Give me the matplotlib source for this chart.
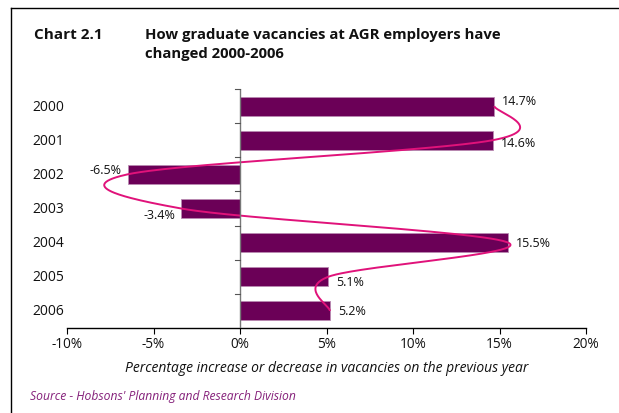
import numpy as np
import matplotlib
matplotlib.use("Agg")
import matplotlib.pyplot as plt
from matplotlib.lines import Line2D

# Year-on-year change in graduate vacancies (%)
years = ["2000", "2001", "2002", "2003", "2004", "2005", "2006"]
change_pct = [14.7, 14.6, -6.5, -3.4, 15.5, 5.1, 5.2]
x_ticks = [-10, -5, 0, 5, 10, 15, 20]

# Vertical nudges (pixels) for value labels so they clear the trend curve
label_dy = [6, -2, 5, -6, 0, -5, 0]

BAR = "#6b0057"
CURVE = "#e0127a"
SOURCE = "#85207a"
INK = "#111111"

plt.rcParams["font.family"] = ["Open Sans", "DejaVu Sans"]

fig = plt.figure(figsize=(6.19, 4.14), dpi=100)
W, H = 619, 414

def fx(px):
    return px / W

def fy(py):
    return 1 - py / H

ax = fig.add_axes([fx(67), fy(329), fx(586) - fx(67), fy(90) - fy(329)])

pos = np.arange(len(years))
ax.barh(pos, change_pct, height=0.56, color=BAR, edgecolor="#b98ab2",
        linewidth=0.6, zorder=2)

# Smoothed line through bar ends (Catmull-Rom / Bezier style)
P = np.column_stack([np.array(change_pct, dtype=float), pos.astype(float)])
n = len(P)
T = np.zeros_like(P)
for i in range(n):
    if i == 0:
        T[i] = (P[1] - P[0]) / 2
    elif i == n - 1:
        T[i] = (P[-1] - P[-2]) / 2
    else:
        T[i] = (P[i + 1] - P[i - 1]) / 2
curve = []
t = np.linspace(0, 1, 60)[:, None]
for i in range(n - 1):
    b0 = P[i]
    b1 = P[i] + T[i] / 3
    b2 = P[i + 1] - T[i + 1] / 3
    b3 = P[i + 1]
    seg = ((1 - t) ** 3) * b0 + 3 * ((1 - t) ** 2) * t * b1 \
        + 3 * (1 - t) * t ** 2 * b2 + t ** 3 * b3
    curve.append(seg)
curve = np.vstack(curve)
ax.plot(curve[:, 0], curve[:, 1], color=CURVE, lw=1.4, zorder=3,
        solid_capstyle="butt")

ax.set_xlim(-10, 20)
ax.set_ylim(len(years) - 0.5, -0.5)

# Value labels
for i, v in enumerate(change_pct):
    if v >= 0:
        ax.annotate(f"{v}%", (v, i), xytext=(8, label_dy[i]),
                    textcoords="offset pixels", ha="left", va="center",
                    fontsize=9, color=INK)
    else:
        ax.annotate(f"{v}%", (v, i), xytext=(-6, label_dy[i]),
                    textcoords="offset pixels", ha="right", va="center",
                    fontsize=9, color=INK)

# Spines
for s in ["top", "right", "left"]:
    ax.spines[s].set_visible(False)
ax.spines["bottom"].set_color("black")
ax.spines["bottom"].set_linewidth(1.0)
ax.axvline(0, color="#777777", lw=1.0, zorder=4)

ax.set_xticks(x_ticks)
ax.set_xticklabels([f"{v}%" for v in x_ticks], fontsize=9.8, color=INK)
ax.tick_params(axis="x", direction="out", length=4, width=0.8, pad=2)
ax.set_yticks([])

# Category separators on the zero line
for b in np.arange(-0.5, len(years) - 0.5, 1.0):
    ax.add_line(Line2D([-0.3, 0], [b, b], color="#555555", lw=0.8,
                       zorder=4, clip_on=False))

# Year labels at the left edge
for i, yr in enumerate(years):
    ax.text(-0.006, i, yr, transform=ax.get_yaxis_transform(),
            ha="right", va="center", fontsize=10, color=INK)

ax.set_xlabel("Percentage increase or decrease in vacancies on the previous year",
              fontsize=10, style="italic", labelpad=6, color=INK)

# Title block
fig.text(fx(34), fy(35), "Chart 2.1", fontsize=11, fontweight="bold",
         ha="left", va="center", color=INK)
fig.text(fx(145), fy(35), "How graduate vacancies at AGR employers have",
         fontsize=10.7, fontweight="bold", ha="left", va="center",
         color=INK)
fig.text(fx(145), fy(54), "changed 2000-2006", fontsize=10.7,
         fontweight="bold", ha="left", va="center", color=INK)

fig.text(fx(30), fy(397), "Source - Hobsons' Planning and Research Division",
         fontsize=8.7, style="italic", color=SOURCE, ha="left", va="center")

# Frame lines
fig.add_artist(Line2D([fx(11), fx(618)], [fy(8.5), fy(8.5)], color="black",
                      lw=1.0, transform=fig.transFigure))
fig.add_artist(Line2D([fx(11), fx(11)], [fy(8.5), 0], color="black",
                      lw=1.0, transform=fig.transFigure))

fig.savefig("out.png", dpi=100)
